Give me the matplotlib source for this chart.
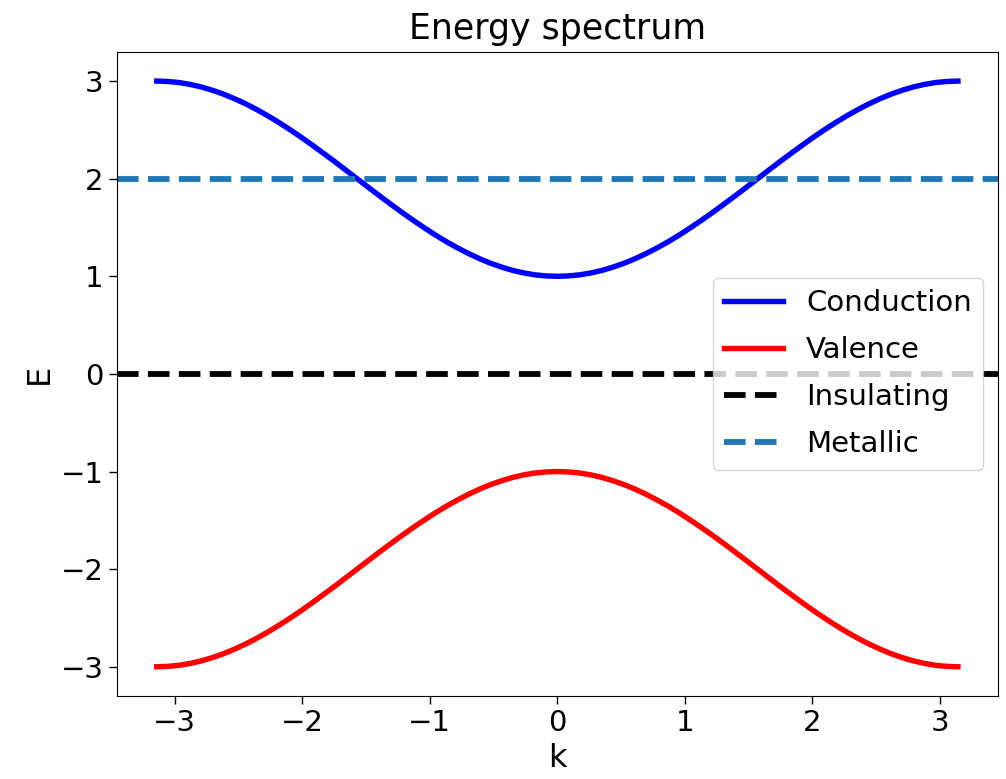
import matplotlib
matplotlib.use("Agg")
import matplotlib.pyplot as plt

# momentum values (k) and band energies
k = [-3.142, -3.054, -2.967, -2.880, -2.793, -2.705, -2.618, -2.531, -2.443,
     -2.356, -2.269, -2.182, -2.094, -2.007, -1.920, -1.833, -1.745, -1.658,
     -1.571, -1.484, -1.396, -1.309, -1.222, -1.134, -1.047, -0.960, -0.873,
     -0.785, -0.698, -0.611, -0.524, -0.436, -0.349, -0.262, -0.175, -0.087,
     0.000,
     0.087, 0.175, 0.262, 0.349, 0.436, 0.524, 0.611, 0.698, 0.785,
     0.873, 0.960, 1.047, 1.134, 1.222, 1.309, 1.396, 1.484, 1.571,
     1.658, 1.745, 1.833, 1.920, 2.007, 2.094, 2.182, 2.269, 2.356,
     2.443, 2.531, 2.618, 2.705, 2.793, 2.880, 2.967, 3.054, 3.142]
conduction = [3.000, 2.996, 2.985, 2.966, 2.940, 2.906, 2.866, 2.819, 2.766,
              2.707, 2.643, 2.574, 2.500, 2.423, 2.342, 2.259, 2.174, 2.087,
              2.000, 1.913, 1.826, 1.741, 1.658, 1.577, 1.500, 1.426, 1.357,
              1.293, 1.234, 1.181, 1.134, 1.094, 1.060, 1.034, 1.015, 1.004,
              1.000,
              1.004, 1.015, 1.034, 1.060, 1.094, 1.134, 1.181, 1.234, 1.293,
              1.357, 1.426, 1.500, 1.577, 1.658, 1.741, 1.826, 1.913, 2.000,
              2.087, 2.174, 2.259, 2.342, 2.423, 2.500, 2.574, 2.643, 2.707,
              2.766, 2.819, 2.866, 2.906, 2.940, 2.966, 2.985, 2.996, 3.000]
valence = [-3.000, -2.996, -2.985, -2.966, -2.940, -2.906, -2.866, -2.819, -2.766,
           -2.707, -2.643, -2.574, -2.500, -2.423, -2.342, -2.259, -2.174, -2.087,
           -2.000, -1.913, -1.826, -1.741, -1.658, -1.577, -1.500, -1.426, -1.357,
           -1.293, -1.234, -1.181, -1.134, -1.094, -1.060, -1.034, -1.015, -1.004,
           -1.000,
           -1.004, -1.015, -1.034, -1.060, -1.094, -1.134, -1.181, -1.234, -1.293,
           -1.357, -1.426, -1.500, -1.577, -1.658, -1.741, -1.826, -1.913, -2.000,
           -2.087, -2.174, -2.259, -2.342, -2.423, -2.500, -2.574, -2.643, -2.707,
           -2.766, -2.819, -2.866, -2.906, -2.940, -2.966, -2.985, -2.996, -3.000]
insulating_level = 0.0
metallic_level = 2.0

fig = plt.figure(figsize=(10.06, 7.79), dpi=100)
ax = fig.add_axes([0.116, 0.1065, 0.876, 0.827])

ax.plot(k, conduction, color='blue', lw=3.9, label='Conduction')
ax.plot(k, valence, color='red', lw=3.9, label='Valence')
ax.axhline(insulating_level, color='black', ls='--', lw=4.2, label='Insulating')
ax.axhline(metallic_level, color='tab:blue', ls='--', lw=4.2, label='Metallic')

ax.set_title('Energy spectrum', fontsize=25, pad=9)
ax.set_xlabel('k', fontsize=23)
ax.set_ylabel('E', fontsize=23)
ax.tick_params(labelsize=21, length=6, width=1)
ax.set_xticks([-3, -2, -1, 0, 1, 2, 3])
ax.set_yticks([-3, -2, -1, 0, 1, 2, 3])
ax.legend(loc='center right', fontsize=21, labelspacing=0.65)

fig.savefig('out.png', dpi=100)
